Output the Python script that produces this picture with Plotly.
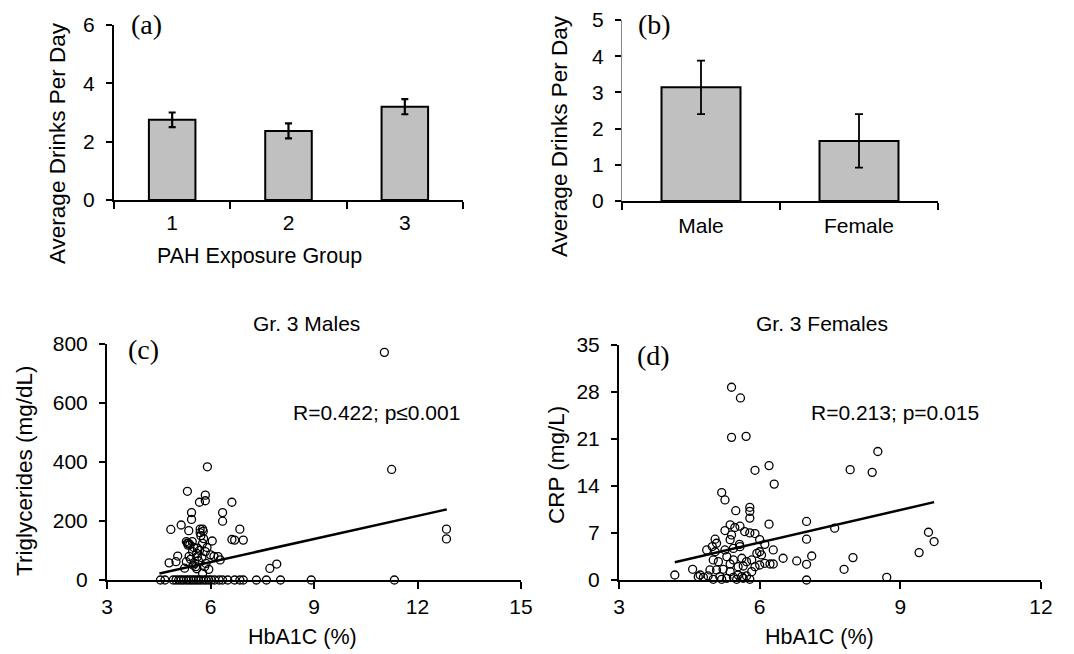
import plotly.graph_objects as go

W, H = 1074, 654
OFF = 8  # default page body margin of the html page

# ---------------- data ----------------
# (a) PAH exposure groups
a_groups = ["1", "2", "3"]
a_means = [2.75, 2.37, 3.20]
a_err = [0.25, 0.26, 0.26]

# (b) sex
b_groups = ["Male", "Female"]
b_means = [3.14, 1.66]
b_err = [0.74, 0.74]

# (c) Gr. 3 Males: HbA1C vs Triglycerides
c_x = [11.04, 11.25, 12.84, 12.84, 11.33, 8.92, 8.03, 7.62, 7.33, 7.72, 7.92, 5.91,
       5.33, 5.85, 5.85, 5.68, 6.62, 5.45, 5.45, 6.35, 6.35, 5.15, 4.85, 5.37, 5.77,
       5.79, 6.85, 5.30, 5.36, 6.05, 6.62, 6.70, 6.95, 5.77, 5.62, 5.85, 6.00, 6.10,
       5.48, 5.38, 5.62, 6.22, 6.28, 5.05, 4.80, 5.00, 5.30, 5.55, 5.57, 5.60, 5.87,
       5.95, 5.25, 5.77, 5.70, 5.72, 5.40, 5.47, 5.52, 5.60, 5.68, 5.80, 5.90, 5.42,
       5.50, 5.65, 5.75, 5.83, 5.33, 5.35, 5.70,
       4.55, 4.68, 4.92, 5.00, 5.08, 5.15, 5.22, 5.30, 5.37, 5.44, 5.51, 5.58, 5.65,
       5.72, 5.80, 5.87, 5.95, 6.02, 6.12, 6.25, 6.35, 6.50, 6.70, 6.85, 6.95]
c_y = [770, 374, 172, 139, 0, 0, 0, 0, 0, 39, 54, 383,
       300, 287, 268, 263, 263, 228, 205, 228, 199, 186, 171, 167, 172,
       165, 172, 130, 124, 132, 137, 135, 135, 124, 108, 96, 85, 80,
       96, 80, 79, 79, 68, 81, 58, 62, 62, 56, 45, 38, 56,
       36, 40, 23, 160, 150, 120, 130, 110, 90, 100, 140, 110, 70,
       50, 65, 75, 45, 125, 118, 172,
       0, 0, 0, 0, 0, 0, 0, 0, 0, 0, 0, 0, 0,
       0, 0, 0, 0, 0, 0, 0, 0, 0, 0, 0, 0]
c_fit_x = [4.52, 12.85]
c_fit_y = [22, 239]

# (d) Gr. 3 Females: HbA1C vs CRP
d_x = [5.40, 5.59, 5.40, 5.71, 5.90, 6.20, 6.31, 7.93, 8.40, 8.52, 7.00, 7.60,
       7.00, 7.11, 6.79, 7.00, 7.00, 7.80, 7.99, 8.71, 9.40, 9.60, 9.72, 4.19,
       5.19, 5.26, 5.49, 5.79, 5.79, 5.79, 6.20, 5.37, 5.47, 5.58, 5.26, 5.40,
       5.68, 5.79, 5.90, 5.05, 5.08, 5.37, 5.57, 6.00, 6.11, 4.87, 5.05, 5.26,
       5.44, 5.58, 5.94, 6.00, 6.04, 6.29, 6.50, 4.57, 6.11, 6.22, 6.29, 5.01,
       5.12, 5.30, 5.44, 5.62, 5.72, 5.83, 5.90, 6.00, 4.94, 5.08, 5.22, 5.37,
       4.73, 4.80, 4.90, 5.01, 5.15, 5.30, 5.44, 5.54, 5.65, 5.72, 5.79, 5.83,
       5.37, 5.54, 5.65, 4.99, 4.69, 5.19, 5.51, 5.62]
d_y = [28.65, 27.06, 21.2, 21.35, 16.3, 17.0, 14.25, 16.4, 16.0, 19.1, 8.7, 7.7,
       6.06, 3.57, 2.83, 2.33, 0.0, 1.59, 3.33, 0.4, 4.07, 7.1, 5.71, 0.74,
       13.0, 11.9, 10.3, 10.8, 10.2, 9.2, 8.3, 8.2, 7.8, 8.0, 7.35, 6.7,
       7.2, 7.0, 6.9, 6.06, 5.46, 6.0, 5.3, 6.0, 5.3, 4.47, 4.2, 4.47,
       4.7, 4.96, 3.97, 4.2, 3.72, 4.47, 3.23, 1.59, 2.48, 2.38, 2.38, 2.98,
       2.73, 3.47, 2.98, 3.23, 2.73, 2.98, 1.98, 2.23, 1.49, 1.49, 1.59, 1.24,
       0.74, 0.40, 0.60, 0.10, 0.50, 0.25, 0.40, 0.74, 0.25, 0.60, 0.10, 1.24,
       2.38, 1.98, 2.08, 4.97, 0.5, 0.1, 0.1, 0.5]
d_fit_x = [4.19, 9.72]
d_fit_y = [2.64, 11.57]

# ---------------- helpers ----------------
def px_x(p):
    return (p - OFF) / W

def px_y(p):
    return 1 - (p - OFF) / H

SANS = "Liberation Sans, Arial, sans-serif"
SERIF = "Liberation Serif, Times New Roman, serif"
BAR_FILL = "#c0c0c0"

fig = go.Figure()

fig.add_trace(go.Bar(
    x=a_groups, y=a_means, width=0.4, xaxis="x", yaxis="y",
    marker=dict(color=BAR_FILL, line=dict(color="black", width=2)),
    error_y=dict(type="data", array=a_err, color="black", thickness=2.2, width=3.5),
    showlegend=False, cliponaxis=False))

fig.add_trace(go.Bar(
    x=b_groups, y=b_means, width=0.5, xaxis="x2", yaxis="y2",
    marker=dict(color=BAR_FILL, line=dict(color="black", width=2)),
    error_y=dict(type="data", array=b_err, color="black", thickness=1.8, width=4),
    showlegend=False, cliponaxis=False))

marker_style = dict(symbol="circle-open", size=8, color="black", line=dict(width=1.3, color="black"))

fig.add_trace(go.Scatter(x=c_x, y=c_y, mode="markers", xaxis="x3", yaxis="y3",
                         marker=marker_style, showlegend=False, cliponaxis=False))
fig.add_trace(go.Scatter(x=c_fit_x, y=c_fit_y, mode="lines", xaxis="x3", yaxis="y3",
                         line=dict(color="black", width=2.5), showlegend=False))
fig.add_trace(go.Scatter(x=d_x, y=d_y, mode="markers", xaxis="x4", yaxis="y4",
                         marker=marker_style, showlegend=False, cliponaxis=False))
fig.add_trace(go.Scatter(x=d_fit_x, y=d_fit_y, mode="lines", xaxis="x4", yaxis="y4",
                         line=dict(color="black", width=2.5), showlegend=False))

def yax(domain, rng, dtick, anchor, linecolor="black", lw=2):
    return dict(domain=domain, range=rng, dtick=dtick, anchor=anchor,
                showline=True, linecolor=linecolor, linewidth=lw, showgrid=False, zeroline=False,
                ticks="outside", ticklen=6, tickwidth=2, tickcolor="black",
                ticklabelstandoff=7,
                tickfont=dict(family=SANS, size=21, color="black"),
                fixedrange=True, automargin=False)

def xcat(domain, anchor, standoff):
    return dict(domain=domain, anchor=anchor, type="category", tickson="boundaries",
                showline=True, linecolor="black", linewidth=2, showgrid=False,
                ticks="outside", ticklen=7, tickwidth=2, tickcolor="black",
                ticklabelstandoff=standoff,
                tickfont=dict(family=SANS, size=21, color="black"), automargin=False)

def xlin(domain, rng, dtick, anchor):
    return dict(domain=domain, range=rng, dtick=dtick, anchor=anchor,
                showline=True, linecolor="black", linewidth=2, showgrid=False, zeroline=False,
                ticks="outside", ticklen=7, tickwidth=2, tickcolor="black",
                tickfont=dict(family=SANS, size=21, color="black"), automargin=False)

fig.update_layout(
    width=W, height=H,
    margin=dict(l=0, r=0, t=0, b=0),
    paper_bgcolor="white", plot_bgcolor="white",
    xaxis=xcat([px_x(114), px_x(463)], "y", 3),
    yaxis=yax([px_y(200), px_y(25)], [0, 6], 2, "x"),
    xaxis2=xcat([px_x(622), px_x(938)], "y2", 5),
    yaxis2=yax([px_y(201), px_y(20)], [0, 5], 1, "x2", linecolor="#888888", lw=1.2),
    xaxis3=xlin([px_x(107), px_x(521)], [3, 15], 3, "y3"),
    yaxis3=yax([px_y(580), px_y(343.5)], [0, 800], 200, "x3"),
    xaxis4=xlin([px_x(619), px_x(1041)], [3, 12], 3, "y4"),
    yaxis4=yax([px_y(580), px_y(344.5)], [0, 35], 7, "x4"),
)

def ann(text, x, y, size, family=SANS, angle=0):
    fig.add_annotation(text=text, x=px_x(x), y=px_y(y), xref="paper", yref="paper",
                       xanchor="center", yanchor="middle", showarrow=False, textangle=angle,
                       font=dict(family=family, size=size, color="black"))

# axis titles
ann("Average Drinks Per Day", 57, 143, 22.5, angle=-90)
ann("PAH Exposure Group", 259, 256, 21.5)
ann("Average Drinks Per Day", 560, 136, 22.5, angle=-90)
ann("Triglycerides (mg/dL)", 24, 471, 22.5, angle=-90)
ann("HbA1C (%)", 302, 637, 21.5)
ann("CRP (mg/L)", 556, 465, 22.5, angle=-90)
ann("HbA1C (%)", 819, 637, 21.5)

# panel titles
ann("Gr. 3 Males", 306, 323, 21)
ann("Gr. 3 Females", 822, 323, 21)

# statistics
ann("R=0.422; p≤0.001", 376, 413, 21)
ann("R=0.213; p=0.015", 895, 412, 21)

# panel letters
ann("(a)", 146, 24, 28, family=SERIF)
ann("(b)", 654, 24, 28, family=SERIF)
ann("(c)", 143, 349, 28, family=SERIF)
ann("(d)", 653, 355, 28, family=SERIF)

fig.write_html("out.html")
